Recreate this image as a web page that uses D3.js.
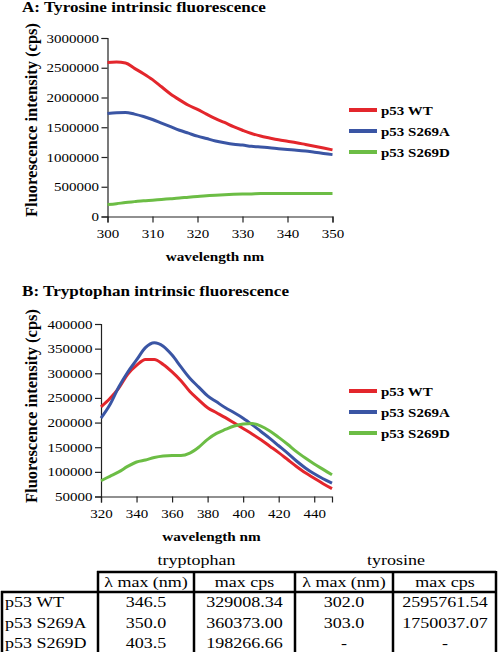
<!DOCTYPE html>
<html><head><meta charset="utf-8">
<script src="https://cdn.jsdelivr.net/npm/d3@7"></script>
<style>body{margin:0;background:#fff}svg{display:block}</style>
</head><body><svg id="c" width="498" height="652"></svg>
<script>
const seriesNames = ["p53 WT","p53 S269A","p53 S269D"];
const colors = ["#e3262c","#3a55a4","#6cbd45"];
// Panel A: tyrosine
const waveA = [300,302,304,306,308,310,312,314,316,318,320,322,324,326,328,330,332,334,336,338,340,342,344,346,348,350];
const tyrWT = [2590000,2595000,2580000,2490000,2400000,2300000,2180000,2060000,1960000,1870000,1800000,1720000,1645000,1580000,1510000,1450000,1395000,1352000,1320000,1290000,1265000,1240000,1210000,1180000,1150000,1120000];
const tyrA = [1730000,1745000,1750000,1720000,1680000,1630000,1570000,1510000,1450000,1400000,1350000,1310000,1270000,1240000,1215000,1200000,1180000,1167000,1155000,1140000,1127000,1115000,1100000,1080000,1060000,1040000];
const tyrD = [200000,215000,235000,250000,265000,275000,287000,298000,310000,325000,338000,348000,358000,366000,372000,377000,380000,385000,385000,385000,385000,385000,385000,385000,385000,385000];
const yTicksA = [0,500000,1000000,1500000,2000000,2500000,3000000];
const xTicksA = [300,310,320,330,340,350];
// Panel B: tryptophan
const waveB = [320,325,330,335,340,345,350,355,360,365,370,375,380,385,390,395,400,405,410,415,420,425,430,435,440,445,450];
const trpWT = [232000,249000,270000,298000,316000,328000,328000,318000,303000,285000,263000,246000,230000,220000,210000,199000,188000,177000,165000,152000,139000,125000,111000,98000,87000,76000,66000];
const trpA = [209000,236000,272000,302000,327000,352000,362000,355000,337000,313000,290000,272000,254000,242000,230000,220000,209000,196000,182000,168000,153000,138000,122000,108000,96000,86000,77000];
const trpD = [82000,91000,100000,111000,120000,124000,129000,132000,133000,133000,138000,150000,166000,178000,186000,193000,197000,198000,193000,183000,170000,156000,141000,128000,116000,105000,94000];
const yTicksB = [50000,100000,150000,200000,250000,300000,350000,400000];
const xTicksB = [320,340,360,380,400,420,440];
// Table
const tableRows = ["p53 WT","p53 S269A","p53 S269D"];
const trpLmax = ["346.5","350.0","403.5"];
const trpMax = ["329008.34","360373.00","198266.66"];
const tyrLmax = ["302.0","303.0","-"];
const tyrMax = ["2595761.54","1750037.07","-"];

const FONT = "'Liberation Serif', 'Times New Roman', Times, serif";
const SX = 1.2; // horizontal stretch of the original figure's text
const svg = d3.select("#c");
function T(sel,x,y,size,txt,opts){
  opts=opts||{};
  const sx = opts.sx||SX;
  const t = sel.append("text").attr("transform",`translate(${x},${y}) scale(${sx},1)`).text(txt)
    .style("font-family",FONT).style("font-size",size+"px").style("fill","#000");
  if(opts.bold) t.style("font-weight","bold");
  if(opts.anchor) t.attr("text-anchor",opts.anchor);
  return t;
}

function panel(o){
  const x = d3.scaleLinear().domain(o.xd).range(o.xr);
  const y = d3.scaleLinear().domain(o.yd).range(o.yr);
  T(svg,o.titleX,o.titleY,14,o.title,{bold:true,sx:1.22});
  const gx = svg.append("g").attr("transform",`translate(0,${o.yr[0]})`)
    .call(d3.axisBottom(x).tickValues(o.xt).tickSize(6).tickFormat(d3.format("d")));
  const gy = svg.append("g").attr("transform",`translate(${o.xr[0]},0)`)
    .call(d3.axisLeft(y).tickValues(o.yt).tickSize(6).tickFormat(d3.format("d")));
  [gx,gy].forEach(g=>{
    g.selectAll("path").attr("stroke","#222").attr("stroke-width",1.2);
    g.selectAll("line").attr("stroke","#222").attr("stroke-width",1.2);
    g.selectAll("text").style("font-size","12.5px").style("font-family",FONT).style("fill","#000")
      .attr("transform",`scale(${SX},1)`);
  });
  gy.selectAll("text").attr("x",-8.5/SX);
  gx.selectAll("text").attr("y",13);
  T(svg,(o.xr[0]+o.xr[1])/2-5,o.yr[0]+44,12.7,"wavelength nm",{bold:true,anchor:"middle"});
  T(svg,37,o.labelY,16.5,"Fluorescence intensity (cps)",{bold:true,anchor:"middle",sx:1})
    .attr("transform",`translate(37,${o.labelY}) rotate(-90)`);
  const line = d3.line().x((d,i)=>x(o.wave[i])).y(d=>y(d)).curve(d3.curveMonotoneX);
  o.series.forEach((s,k)=>{
    svg.append("path").attr("d",line(s)).attr("fill","none").attr("stroke",colors[k]).attr("stroke-width",3);
  });
  seriesNames.forEach((n,k)=>{
    const ly = o.legY + k*21;
    svg.append("line").attr("x1",349).attr("x2",377).attr("y1",ly).attr("y2",ly).attr("stroke",colors[k]).attr("stroke-width",4);
    T(svg,381,ly+4.5,12.5,n,{bold:true});
  });
}

panel({title:"A: Tyrosine intrinsic fluorescence",titleX:22,titleY:12,
  xd:[300,350],xr:[107.5,332.5],yd:[0,3000000],yr:[216.5,38],xt:xTicksA,yt:yTicksA,
  wave:waveA,series:[tyrWT,tyrA,tyrD],legY:110,labelY:120});
panel({title:"B: Tryptophan intrinsic fluorescence",titleX:22,titleY:296,
  xd:[320,450],xr:[101,332],yd:[50000,400000],yr:[496.5,324],xt:xTicksB,yt:yTicksB,
  wave:waveB,series:[trpWT,trpA,trpD],legY:391,labelY:406});

// Table
const colX = [2,98,194,295,393,497];
const tg = svg.append("g");
T(tg,(colX[1]+colX[3])/2,565,15,"tryptophan",{anchor:"middle"});
T(tg,(colX[3]+colX[5])/2,565,15,"tyrosine",{anchor:"middle"});
const hdr = ["λ max (nm)","max cps","λ max (nm)","max cps"];
hdr.forEach((h,i)=>{ T(tg,(colX[i+1]+colX[i+2])/2,587,15,h,{anchor:"middle"}); });
const rowY = [607,628,648];
tableRows.forEach((r,i)=>{
  T(tg,5,rowY[i],15,r);
  [trpLmax[i],trpMax[i],tyrLmax[i],tyrMax[i]].forEach((v,j)=>{
    T(tg,(colX[j+1]+colX[j+2])/2,rowY[i],15,v,{anchor:"middle"});
  });
});
function L(x1,y1,x2,y2,w){tg.append("line").attr("x1",x1).attr("y1",y1).attr("x2",x2).attr("y2",y2).attr("stroke","#000").attr("stroke-width",w||2.5);}
L(colX[1]-1,572,colX[5]-1,572);
L(colX[0]-1,592,colX[5]-1,592);
L(colX[0],591,colX[0],652);
L(colX[1],571,colX[1],652);
L(colX[2],571,colX[2],652);
L(colX[3],571,colX[3],652);
L(colX[4],571,colX[4],652);
L(colX[5]-1,571,colX[5]-1,652);
</script></body></html>
